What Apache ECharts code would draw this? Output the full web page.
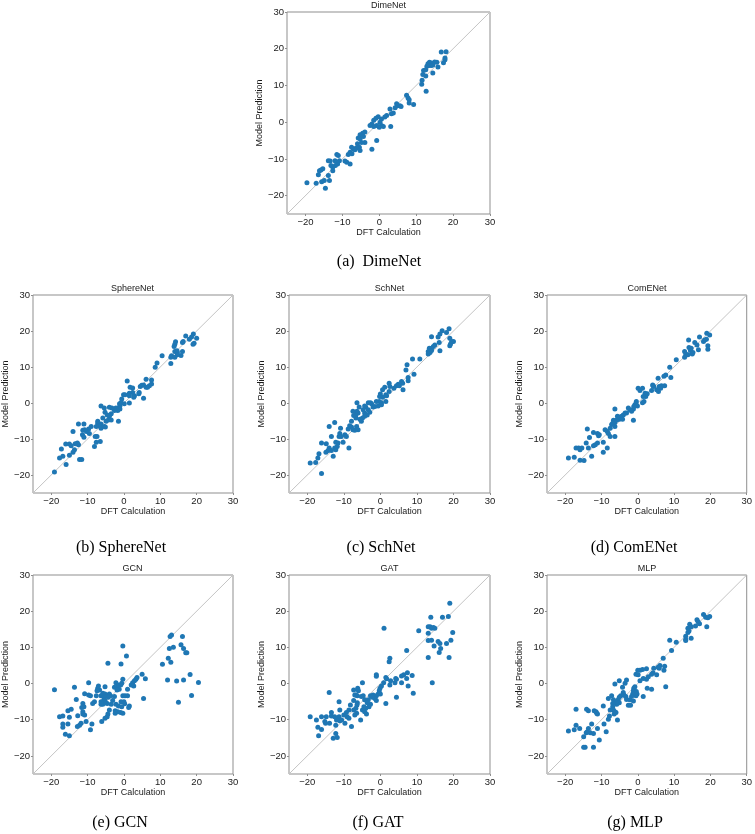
<!DOCTYPE html>
<html><head><meta charset="utf-8">
<script src="https://cdn.jsdelivr.net/npm/echarts@6/dist/echarts.min.js"></script>
<style>html,body{margin:0;padding:0;background:#fff}#c{width:755px;height:834px}</style>
</head><body><div id="c"></div>
<script>
// ---------- data ----------
const tickValues = [-20, -10, 0, 10, 20, 30];
const axisRange = [-25, 30];
const panelTitles = ['DimeNet', 'SphereNet', 'SchNet', 'ComENet', 'GCN', 'GAT', 'MLP'];
const captions = ['(a)  DimeNet', '(b) SphereNet', '(c) SchNet', '(d) ComENet', '(e) GCN', '(f) GAT', '(g) MLP'];
const xAxisName = 'DFT Calculation';
const yAxisName = 'Model Prediction';

// [DFT calculation, model prediction]
const dimenet = [[16.8,19.1],[18.1,19.2],[17.8,17.5],[17.8,17.0],[17.4,16.2],[15.6,16.3],[15.0,16.4],[14.1,16.1],[13.6,16.3],[13.2,15.9],[13.5,15.4],[14.1,15.4],[14.5,15.6],[12.9,15.2],[12.0,14.1],[12.6,14.3],[11.8,13.0],[12.6,12.6],[14.5,13.4],[15.9,15.0],[11.6,11.4],[11.5,10.3],[12.7,8.4],
[7.4,7.3],[7.8,6.6],[8.1,6.1],[9.3,4.8],[8.1,5.2],[4.7,5.0],[5.0,4.5],[5.6,4.5],[5.9,4.3],[4.3,3.9],[2.9,3.6],[3.3,2.3],[3.8,2.5],[2.0,1.8],[1.5,1.4],[0.6,0.9],[3.1,-1.2],[-0.3,1.5],[-0.9,1.1],[-1.5,0.5],[0.2,0.0],[0.6,-0.9],[0.0,-1.4],[-0.7,-0.9],[-1.5,-1.2],[-2.0,-0.5],[-2.5,-0.9],[1.1,-1.2],[-0.7,-5.0],[-2.0,-7.4],
[-3.9,-2.7],[-4.5,-3.0],[-5.2,-3.4],[-5.7,-4.3],[-5.2,-4.5],[-4.3,-3.9],[-3.9,-5.5],[-4.8,-5.5],[-5.9,-5.9],[-5.4,-6.8],[-6.3,-7.1],[-5.2,-7.7],[-7.0,-7.3],[-7.9,-8.2],[-7.4,-8.6],[-8.4,-8.8],[-7.5,-6.8],[-6.6,-7.5],[-8.8,-10.9],[-7.9,-11.4],[-9.3,-10.6],
[-11.5,-8.8],[-11.1,-9.1],[-10.8,-10.5],[-11.3,-11.4],[-11.9,-11.8],[-12.6,-12.3],[-13.3,-10.6],[-13.8,-10.5],[-13.1,-11.8],[-12.6,-13.2],[-12.0,-10.5],[-13.8,-14.5],[-13.5,-15.9],[-14.6,-18.0],[-14.9,-15.9],[-15.6,-16.2],[-15.3,-12.7],[-15.8,-13.0],[-16.5,-14.3],[-16.2,-13.2],[-17.1,-16.6],[-19.6,-16.5]];

const spherenet = [[17.0,18.6],[19.1,19.2],[18.6,18.3],[18.0,17.7],[20.0,18.0],[19.3,16.6],[19.0,16.3],[16.3,17.1],[16.1,16.8],[14.2,17.0],[14.0,16.3],[13.8,15.7],[14.0,14.3],[14.7,14.0],[14.6,14.5],[16.1,14.3],[15.7,13.2],[14.7,13.4],[12.9,12.7],[13.1,13.1],[14.0,12.7],[12.9,11.0],[10.5,13.1],[9.1,11.1],[8.6,9.9],
[6.1,6.6],[7.6,6.4],[7.6,5.3],[7.0,4.8],[6.5,4.4],[6.1,4.4],[5.4,5.0],[4.9,4.9],[4.5,4.6],[4.2,2.9],[4.1,2.6],[5.4,1.3],[0.9,6.1],[1.7,4.4],[2.4,4.2],[2.4,2.9],[2.9,2.0],[2.7,1.6],[1.5,2.7],[1.5,2.0],[-0.1,2.3],[0.3,2.3],[-0.6,1.1],[-1.2,-0.2],[-1.1,-0.8],[-0.8,0.1],[0.1,-0.2],[1.5,0.0],[-1.5,-1.4],[-1.1,-1.7],[-1.7,-2.1],[-2.2,-1.4],[-2.6,-2.1],[-3.3,-1.4],[-1.5,-5.1],[-3.5,-3.0],[-4.0,-3.7],
[-6.3,-0.8],[-4.0,-1.2],[-5.4,-1.4],[-5.2,-2.6],[-4.6,-3.3],[-4.3,-4.7],[-4.9,-5.1],[-3.5,-4.7],[-5.8,-4.2],[-6.3,-5.8],[-7.2,-5.6],[-6.7,-6.3],[-7.6,-6.5],[-7.2,-5.1],[-6.3,-7.0],[-5.4,-6.5],[-5.1,-6.7],[-7.4,-9.3],[-7.9,-9.3],[-7.6,-10.9],[-6.5,-10.7],[-8.1,-12.1],[-9.0,-6.5],[-9.7,-7.2],[-10.3,-7.9],[-9.5,-8.5],[-11.0,-5.8],[-10.8,-7.4],[-11.3,-7.6],[-11.4,-8.8],[-11.0,-9.5],[-12.5,-5.8],[-14.0,-7.9],
[-12.8,-11.1],[-12.5,-11.6],[-13.4,-11.3],[-14.5,-11.9],[-15.0,-11.4],[-16.0,-11.4],[-13.6,-13.0],[-14.0,-13.7],[-15.0,-14.5],[-17.2,-12.8],[-16.8,-14.8],[-17.7,-15.3],[-15.9,-17.1],[-12.2,-15.7],[-11.6,-15.7],[-19.1,-19.2]];

const schnet = [[18.8,20.6],[16.9,20.1],[18.1,19.6],[16.3,19.2],[15.8,18.3],[14.0,18.4],[19.0,18.0],[20.0,17.1],[19.5,17.1],[19.0,15.9],[19.2,16.4],[16.1,16.8],[14.9,16.1],[14.5,15.7],[14.0,15.2],[13.4,15.2],[13.1,14.3],[13.6,14.0],[14.0,14.6],[16.3,14.5],[13.1,13.6],[8.8,12.2],[10.8,12.2],[7.3,10.6],[7.0,9.2],[9.2,8.0],[7.6,7.1],[7.6,6.2],
[4.9,5.2],[4.4,4.8],[5.2,4.8],[5.8,6.0],[6.1,5.5],[6.2,3.7],[3.7,4.1],[2.4,5.5],[2.6,4.6],[2.4,3.2],[1.2,4.4],[1.5,2.3],[1.7,2.0],[0.6,3.7],[0.0,2.5],[-0.2,1.8],[0.6,1.6],[1.5,0.4],[0.3,0.1],[-0.3,0.4],[-1.1,0.4],[-0.6,-0.8],[0.3,-0.5],[-1.5,-1.0],[-2.0,-1.1],[-2.4,-0.2],[-2.7,0.1],[-3.3,0.1],[-4.0,-1.1],[-3.3,-1.9],[-4.3,-0.8],[-2.9,-2.6],[-3.6,-3.3],[-4.3,-2.8],[-4.7,-1.9],[-4.3,-3.7],[-4.9,-4.2],[-5.2,-5.1],
[-6.4,-2.3],[-6.4,0.1],[-5.8,-1.1],[-6.1,-2.8],[-6.7,-3.3],[-7.5,-2.3],[-6.7,-4.2],[-7.3,-3.5],[-5.6,-4.5],[-7.9,-5.1],[-6.5,-6.5],[-6.1,-7.4],[-7.0,-7.6],[-7.5,-7.4],[-7.9,-6.7],[-8.4,-6.3],[-8.8,-7.2],[-8.6,-12.5],[-9.7,-8.8],[-9.3,-9.3],[-10.2,-10.9],[-10.9,-7.0],[-11.1,-8.5],[-10.7,-9.3],[-11.3,-9.3],[-11.6,-11.1],[-12.2,-10.9],[-11.8,-12.1],[-12.5,-12.5],[-12.2,-13.0],[-12.5,-5.4],[-14.0,-6.5],[-13.4,-9.3],[-12.9,-14.8],
[-14.8,-11.3],[-14.0,-12.5],[-13.4,-13.2],[-14.3,-13.2],[-14.9,-13.7],[-16.1,-11.1],[-16.8,-14.1],[-17.1,-15.3],[-17.7,-16.5],[-19.2,-16.7],[-16.1,-19.6]];

const comenet = [[19.0,19.4],[19.8,18.9],[17.0,18.3],[18.4,17.5],[18.9,17.7],[18.1,17.1],[15.7,16.8],[16.3,16.1],[16.7,14.8],[19.3,15.9],[19.3,14.9],[14.0,17.5],[14.1,15.4],[14.7,15.2],[14.5,14.6],[15.0,13.6],[15.2,14.0],[12.9,14.3],[13.2,13.6],[13.8,13.4],[12.9,12.7],[10.6,12.0],[8.8,9.9],[9.1,7.1],[7.2,7.4],[7.7,7.8],[5.6,6.9],
[7.4,4.8],[6.5,4.8],[5.9,4.6],[6.3,4.1],[5.2,3.7],[5.7,3.2],[4.4,4.6],[4.1,5.0],[3.8,3.5],[4.2,4.8],[2.6,2.6],[2.2,1.8],[2.0,2.7],[1.5,1.8],[1.3,4.1],[0.1,4.1],[0.6,3.5],[1.7,0.4],[1.3,0.1],[-0.4,0.4],[-0.5,-0.2],[-0.1,-0.8],[-0.8,-0.5],[-1.1,-1.0],[-1.2,-1.7],[-1.7,-2.3],[-2.2,-1.9],[-2.6,-1.4],[-1.2,-4.8],[-3.5,-2.8],[-3.1,-2.8],[-4.0,-3.3],[-4.4,-3.7],[-4.9,-3.9],[-5.1,-4.5],[-4.2,-4.5],[-5.6,-3.7],
[-6.3,-1.7],[-5.8,-4.7],[-6.7,-4.8],[-6.3,-5.4],[-6.9,-5.6],[-7.2,-6.0],[-6.3,-6.5],[-7.6,-7.0],[-8.4,-7.9],[-9.0,-7.4],[-8.1,-8.5],[-7.6,-9.3],[-6.3,-9.3],[-8.4,-12.5],[-9.5,-13.7],[-9.5,-10.9],[-10.8,-9.1],[-11.1,-8.5],[-10.6,-8.8],[-12.2,-8.2],[-11.1,-11.1],[-11.7,-11.6],[-12.2,-11.9],[-12.7,-14.8],[-13.9,-7.2],[-13.3,-9.6],[-13.6,-12.5],[-14.2,-11.1],
[-15.9,-13.0],[-15.4,-12.5],[-16.3,-12.5],[-17.0,-12.5],[-17.5,-15.1],[-19.1,-15.3],[-15.9,-15.9],[-14.8,-16.0]];

const gcn = [[13.1,13.4],[12.7,13.0],[16.1,13.0],[12.5,9.7],[13.6,10.0],[15.7,10.7],[16.4,9.7],[17.0,8.5],[17.3,8.5],[12.2,7.0],[12.9,5.9],[10.6,5.3],[12.0,1.0],[14.5,0.7],[16.4,1.0],[18.2,2.5],[20.5,0.3],[18.6,-3.3],[15.0,-5.2],
[-0.3,10.4],[0.7,7.6],[-4.4,5.6],[-0.8,5.4],[5.0,2.6],[5.9,1.3],[5.4,-4.1],[-0.3,1.2],[1.0,-1.6],[2.4,0.2],[2.9,0.8],[3.3,1.2],[3.6,1.7],[2.7,-0.7],[2.0,-0.4],[-0.6,0.1],[-0.9,-0.4],[-1.5,-0.4],[-2.2,0.2],[-1.7,-0.9],[-1.3,-1.6],[-2.6,-1.0],[-1.9,-1.8],[-0.3,-3.4],[0.3,-3.4],[1.0,-3.4],[1.5,-6.2],[1.3,-6.6],[0.0,-5.0],[0.2,-5.6],[-0.8,-5.0],[-0.6,-6.4],[-1.5,-6.2],[-2.2,-5.7],[-0.3,-8.2],[-0.9,-8.0],[-1.7,-7.8],[-2.4,-8.2],[-2.4,-7.5],[-2.6,-3.6],[-3.1,-4.7],
[-4.0,-2.9],[-3.7,-3.4],[-4.3,-3.8],[-3.5,-5.7],[-4.0,-7.3],[-4.4,-8.4],[-4.6,-9.2],[-5.2,-0.9],[-5.2,-2.9],[-5.4,-3.6],[-5.5,-4.4],[-5.2,-4.7],[-4.6,-5.5],[-5.2,-5.3],[-5.8,-5.7],[-6.3,-5.0],[-6.3,-5.7],[-6.3,-3.4],[-5.8,-2.7],[-6.1,-10.5],[-5.2,-9.6],[-6.7,-1.8],[-7.2,-1.3],[-7.0,-0.7],[-7.4,-2.0],[-7.6,-3.4],[-8.1,-5.0],[-8.6,-5.5],
[-9.7,0.2],[-9.7,-3.2],[-9.2,-3.4],[-10.8,-2.8],[-11.3,-5.5],[-11.0,-6.4],[-11.6,-6.6],[-11.3,-7.8],[-11.3,-8.4],[-10.8,-8.7],[-10.4,-10.5],[-8.8,-11.2],[-9.2,-12.8],[-11.8,-11.0],[-12.2,-11.5],[-12.8,-11.9],[-13.1,-4.4],[-13.6,-1.0],[-12.7,-8.9],[-14.5,-7.1],[-15.4,-7.5],[-15.0,-9.3],[-15.4,-11.2],[-15.0,-14.4],[-16.1,-14.0],[-16.8,-9.0],[-16.8,-11.2],[-16.8,-12.1],[-17.7,-9.2],[-19.1,-1.7]];

const gat = [[19.0,22.2],[18.8,7.2],[17.0,18.3],[18.6,18.5],[13.8,18.3],[13.6,15.7],[13.1,15.7],[14.0,15.3],[14.5,15.5],[14.9,15.3],[10.5,14.6],[13.1,13.9],[19.8,14.1],[13.1,11.9],[14.0,12.0],[15.8,11.6],[16.3,11.1],[14.7,10.4],[16.5,9.7],[16.1,8.6],[18.1,11.1],[19.3,12.0],[13.1,7.2],[14.2,0.2],
[7.2,9.1],[1.0,15.3],[2.6,7.0],[2.4,6.0],[-1.1,2.4],[-1.1,2.0],[1.5,1.7],[1.7,1.3],[2.8,0.8],[2.6,-0.4],[4.0,0.2],[4.2,1.4],[4.4,1.2],[5.8,2.1],[6.4,2.4],[7.4,3.0],[7.2,1.4],[5.8,0.2],[7.6,-0.7],[8.7,2.2],[9.0,-2.7],[4.4,-3.8],[1.5,-5.5],[0.9,0.2],[0.3,-0.7],[-0.1,-1.3],[-0.3,-2.0],[-0.6,-2.9],[0.0,-2.9],[-1.1,-3.4],[-1.5,-4.1],[-1.1,-4.7],[-2.0,-3.2],[-2.7,-3.4],[-2.2,-3.8],[-2.7,-5.7],[-3.3,-4.5],[-3.1,-6.4],[-4.0,-6.8],[-4.3,-4.5],[-3.6,-5.3],[-3.8,-8.4],
[-4.9,0.2],[-4.7,-3.4],[-5.2,-3.6],[-4.5,-6.4],[-4.9,-7.3],[-4.3,-7.8],[-6.2,-1.3],[-6.0,-2.0],[-6.7,-3.2],[-6.3,-3.4],[-7.0,-3.2],[-7.3,-1.8],[-7.3,-4.7],[-6.3,-5.3],[-6.4,-5.9],[-6.7,-6.8],[-7.3,-7.3],[-6.5,-8.2],[-7.0,-8.7],[-5.4,-10.1],[-8.2,-5.9],[-8.6,-7.3],[-9.3,-8.0],[-9.1,-9.2],[-8.6,-9.6],[-7.9,-11.9],[-10.0,-8.7],[-9.7,-11.0],
[-11.3,-5.0],[-11.1,-7.3],[-11.3,-9.2],[-11.1,-10.3],[-12.0,-10.1],[-10.6,-10.1],[-12.2,-11.5],[-12.2,-13.8],[-11.8,-14.9],[-12.9,-15.1],[-12.5,-9.2],[-13.4,-8.0],[-13.4,-9.0],[-14.0,-2.5],[-13.9,-11.0],[-14.8,-9.2],[-15.2,-10.5],[-15.0,-11.0],[-16.1,-9.2],[-16.1,-12.7],[-17.1,-12.1],[-17.5,-10.1],[-16.9,-14.4],[-19.2,-9.2]];

const mlp = [[18.1,19.1],[18.7,18.3],[19.8,18.5],[19.3,18.2],[19.0,15.7],[17.0,16.5],[16.3,17.6],[16.6,17.1],[15.9,15.9],[14.3,16.4],[14.7,15.7],[13.8,15.3],[14.1,14.5],[13.8,14.1],[14.7,12.5],[13.2,13.1],[13.2,12.2],[13.2,11.9],[10.6,11.4],[8.8,12.0],[9.3,9.1],[7.0,7.0],
[7.4,4.8],[7.2,3.7],[7.7,-0.9],[6.1,5.0],[5.9,4.2],[5.6,4.5],[5.2,2.4],[4.4,4.2],[4.2,3.0],[3.8,2.6],[3.8,-1.6],[2.9,1.9],[2.4,1.2],[2.6,-1.3],[2.4,4.1],[1.3,3.9],[0.6,3.7],[0.0,3.7],[-0.5,2.6],[0.1,2.4],[1.5,1.4],[1.5,-3.6],[0.6,0.8],[-1.1,-1.3],[-0.8,-0.9],[-1.2,-2.0],[-0.4,-2.2],[-0.2,-2.9],[-0.5,-3.4],[-0.8,-2.7],[-1.4,-2.9],
[-3.1,1.0],[-3.5,0.1],[-4.2,-1.0],[-4.0,-2.5],[-3.8,-3.2],[-3.3,-3.6],[-3.1,-4.4],[-2.2,-4.5],[-1.7,-3.6],[-2.6,-6.0],[-2.0,-6.0],[-1.2,-4.8],[-4.7,-3.4],[-5.1,-3.8],[-5.4,-4.5],[-5.6,-5.3],[-5.1,-5.3],[-5.8,-5.7],[-6.0,-5.0],[-5.1,0.8],[-6.3,-0.1],[-5.6,-10.1],[-6.7,-4.5],[-6.9,-5.5],[-6.9,-6.4],[-6.7,-7.3],[-6.3,-7.8],[-6.5,-8.4],[-6.0,-8.0],[-7.2,-3.4],[-7.6,-7.3],[-8.1,-4.1],[-7.8,-9.0],[-8.1,-9.9],
[-9.5,-6.2],[-9.3,-11.2],[-8.7,-13.3],[-10.6,-15.6],[-11.3,-8.2],[-11.5,-7.8],[-11.1,-8.4],[-11.1,-12.4],[-12.0,-7.5],[-12.2,-13.8],[-12.7,-11.2],[-13.1,-13.6],[-13.6,-12.4],[-13.6,-7.5],[-14.1,-7.1],[-13.9,-13.3],[-14.2,-13.6],[-14.9,-14.7],[-14.5,-17.6],[-14.9,-17.6],[-12.2,-17.6],[-16.0,-12.4],[-17.0,-7.1],[-17.0,-11.5],[-17.5,-12.8],[-19.1,-13.1]];

const panelData = [dimenet, spherenet, schnet, comenet, gcn, gat, mlp];

// ---------- layout ----------
const frames = [
  {left: 287, top: 12,  width: 203, height: 202, capX: 379, capY: 262},
  {left: 32,  top: 295, width: 201, height: 198, capX: 121, capY: 548},
  {left: 289, top: 295, width: 201, height: 198, capX: 381, capY: 548},
  {left: 547, top: 295, width: 200, height: 198, capX: 634, capY: 548},
  {left: 32,  top: 575, width: 201, height: 199, capX: 120, capY: 823},
  {left: 289, top: 575, width: 201, height: 199, capX: 378, capY: 823},
  {left: 547, top: 575, width: 200, height: 199, capX: 635, capY: 823}
];

const SANS = '"Liberation Sans", Arial, sans-serif';
const SERIF = '"Liberation Serif", "Times New Roman", serif';
const TEXT = '#1a1a1a';
const FRAME = '#8f8f8f';
const fmt = v => String(v).replace('-', '\u2212');

function axis(i, isX) {
  return {
    gridIndex: i, type: 'value', min: axisRange[0], max: axisRange[1],
    name: isX ? xAxisName : yAxisName, nameLocation: 'middle', nameGap: isX ? 13 : 16,
    nameTextStyle: {fontFamily: SANS, fontSize: 9, color: TEXT},
    axisLine: {show: false, onZero: false},
    axisTick: {show: true, length: 2, lineStyle: {color: FRAME, width: 1}, customValues: tickValues},
    axisLabel: {customValues: tickValues, margin: 3, fontFamily: SANS, fontSize: 9.5, color: TEXT, formatter: fmt},
    splitLine: {show: false}
  };
}

const option = {
  animation: false,
  backgroundColor: '#ffffff',
  grid: frames.map(f => ({left: f.left, top: f.top, width: f.width, height: f.height, show: true, borderColor: FRAME, borderWidth: 1, backgroundColor: 'transparent'})),
  xAxis: frames.map((f, i) => axis(i, true)),
  yAxis: frames.map((f, i) => axis(i, false)),
  series: [],
  graphic: []
};

panelData.forEach((pts, i) => {
  option.series.push({
    type: 'line', xAxisIndex: i, yAxisIndex: i, silent: true, symbol: 'none', z: 1,
    data: [[axisRange[0], axisRange[0]], [axisRange[1], axisRange[1]]],
    lineStyle: {color: '#c4c4c4', width: 1}
  });
  option.series.push({
    type: 'scatter', xAxisIndex: i, yAxisIndex: i, z: 3,
    symbol: 'circle', symbolSize: 5,
    itemStyle: {color: '#1f77b4', opacity: 1},
    data: pts
  });
  const f = frames[i];
  option.graphic.push({
    type: 'text', x: f.left + f.width / 2, y: f.top - 2,
    style: {text: panelTitles[i], font: '9px ' + SANS, fill: TEXT, textAlign: 'center', textVerticalAlign: 'bottom'}
  });
  option.graphic.push({
    type: 'text', x: f.capX, y: f.capY,
    style: {text: captions[i], font: '16px ' + SERIF, fill: '#000', textAlign: 'center', textVerticalAlign: 'middle'}
  });
});

const chart = echarts.init(document.getElementById('c'), null, {renderer: 'canvas'});
chart.setOption(option);
</script>
</body></html>
